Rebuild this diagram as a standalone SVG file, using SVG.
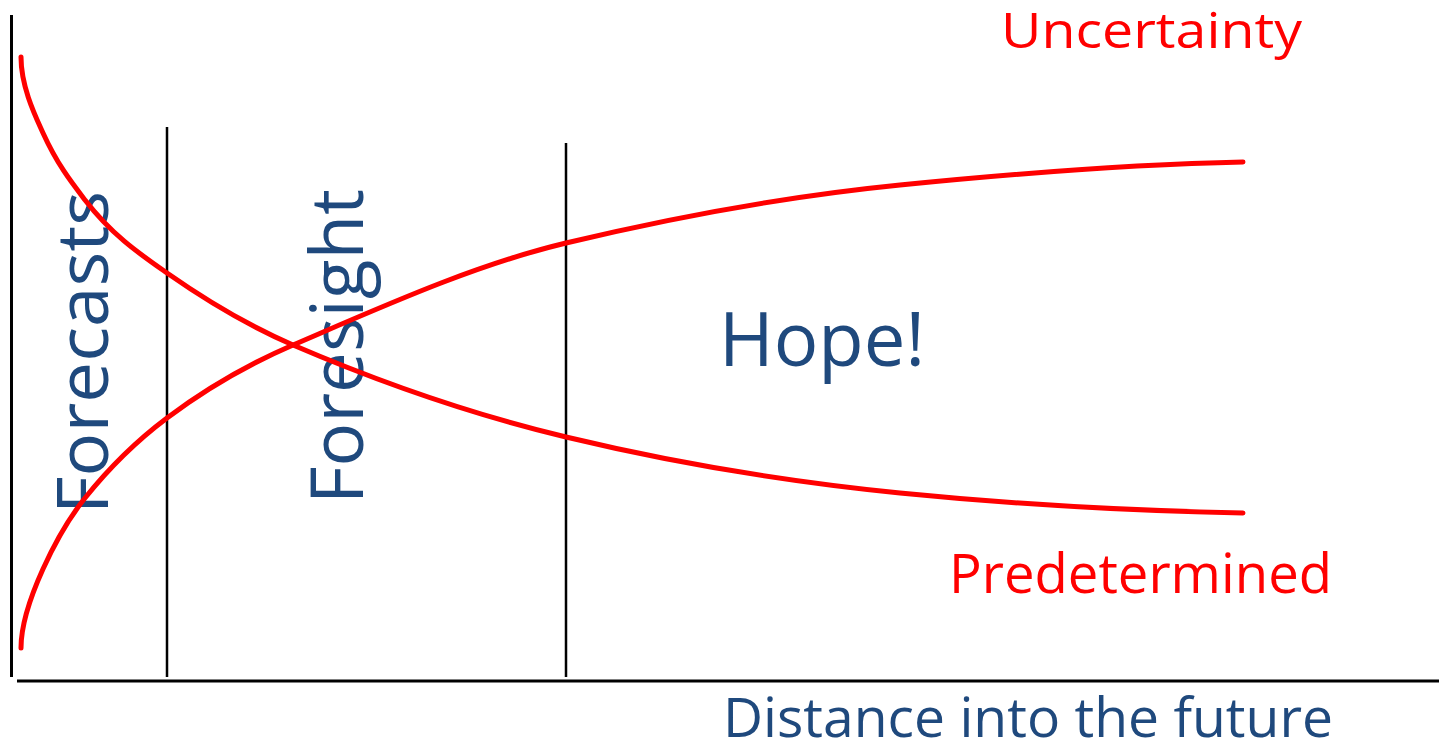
<svg xmlns="http://www.w3.org/2000/svg" width="1439" height="746" viewBox="0 0 1439 746">
<style>
.axis{stroke:#000;stroke-width:3;fill:none}
.div{stroke:#000;stroke-width:2.5;fill:none}
.curve{stroke:#FF0000;stroke-width:5;fill:none;stroke-linecap:round;stroke-linejoin:round}
.blue{fill:#1F497D;font-family:"Open Sans","Liberation Sans",sans-serif}
.red{fill:#FF0000;font-family:"Open Sans","Liberation Sans",sans-serif}
</style>
<rect width="1439" height="746" fill="#fff"/>
<g id="axes">
<line class="axis" x1="11.5" y1="15" x2="11.5" y2="677"/>
<line class="axis" x1="17" y1="681" x2="1439" y2="681"/>
</g>
<g id="dividers">
<line class="div" x1="167" y1="127" x2="167" y2="677"/>
<line class="div" x1="566" y1="143" x2="566" y2="677"/>
</g>
<g id="label-forecasts">
<text class="blue" font-size="72" transform="translate(108,514) rotate(-90)" textLength="323" lengthAdjust="spacingAndGlyphs">Forecasts</text>
</g>
<g id="label-foresight">
<text class="blue" font-size="74" transform="translate(363,504) rotate(-90)" textLength="315" lengthAdjust="spacingAndGlyphs">Foresight</text>
</g>
<g id="label-hope">
<text class="blue" x="719" y="366" font-size="75" textLength="206" lengthAdjust="spacingAndGlyphs">Hope!</text>
</g>
<g id="label-uncertainty">
<text class="red" x="1001" y="48" font-size="50" textLength="301" lengthAdjust="spacingAndGlyphs">Uncertainty</text>
</g>
<g id="label-predetermined">
<text class="red" x="949" y="593" font-size="54" textLength="383" lengthAdjust="spacingAndGlyphs">Predetermined</text>
</g>
<g id="label-distance">
<text class="blue" x="723" y="737" font-size="54" textLength="610" lengthAdjust="spacingAndGlyphs">Distance into the future</text>
</g>
<g id="connectors">
<path class="curve" d="M21,57 C21,87 35.7,116.9 43,133 C57,163.8 71,181.8 85,200 C112.3,235.5 139.7,253.9 167,273 C209,302.4 251,326.9 293,345 C384,384.1 475,415.2 566,437 C677.3,463.7 788.7,481.9 900,493 C1014.3,504.4 1128.7,510.7 1243,513"/>
<path class="curve" d="M21,648 C21,618 35.7,585.1 43,569 C57,538.2 71,515.5 85,498 C112.3,463.9 139.7,438.5 167,418 C209,386.5 251,363.1 293,345 C384,305.9 475,264.8 566,243 C677.3,216.3 788.7,196.1 900,185 C1014.3,173.6 1128.7,164.3 1243,162"/>
</g>
</svg>
